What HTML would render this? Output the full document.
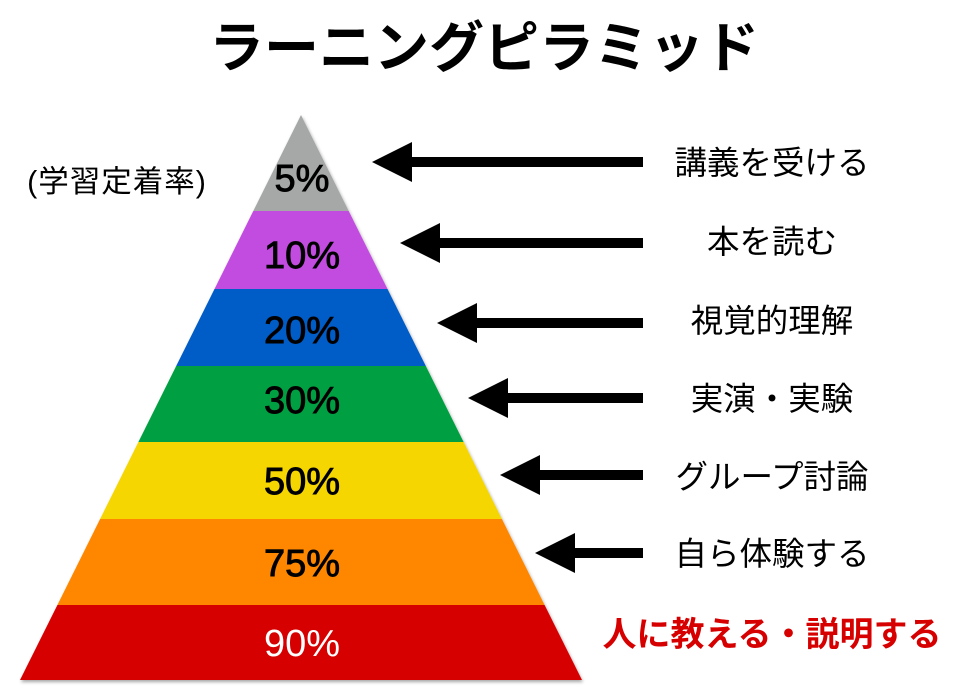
<!DOCTYPE html>
<html><head><meta charset="utf-8"><style>
html,body{margin:0;padding:0;background:#fff;}
body{width:967px;height:694px;overflow:hidden;position:relative;}
svg{position:absolute;left:0;top:0;}
text{font-family:"Liberation Sans","Noto Sans CJK JP",sans-serif;}
</style></head><body>
<svg width="967" height="694" viewBox="0 0 967 694">
<defs><filter id="sh" x="-5%" y="-5%" width="110%" height="110%"><feDropShadow dx="1" dy="2" stdDeviation="1.5" flood-color="#000" flood-opacity="0.35"/></filter></defs>
<text x="484" y="67" text-anchor="middle" font-size="55" font-weight="bold" fill="#000">ラーニングピラミッド</text>
<g filter="url(#sh)">
<polygon points="301,115 348.7,211 253.3,211" fill="#a5a8a6"/>
<polygon points="253.3,211 348.7,211 387.5,289 214.5,289" fill="#c24be0"/>
<polygon points="214.5,289 387.5,289 425.8,366 176.2,366" fill="#005cc6"/>
<polygon points="176.2,366 425.8,366 463.6,442 138.4,442" fill="#00a043"/>
<polygon points="138.4,442 463.6,442 501.9,519 100.1,519" fill="#f5d600"/>
<polygon points="100.1,519 501.9,519 544.6,605 57.4,605" fill="#ff8700"/>
<polygon points="57.4,605 544.6,605 582,680 20,680" fill="#d60000"/>
</g>
<g font-size="38" text-anchor="middle" fill="#000" stroke="#000" stroke-width="0.9">
<text x="302" y="191">5%</text>
<text x="302" y="268">10%</text>
<text x="302" y="343">20%</text>
<text x="302" y="413">30%</text>
<text x="302" y="494">50%</text>
<text x="302" y="576">75%</text>
<text x="302" y="656" fill="#fff" stroke="none">90%</text>
</g>
<text x="117" y="192" text-anchor="middle" font-size="30.5" letter-spacing="1" fill="#000">(学習定着率)</text>
<g fill="#000">
<polygon points="372,162 412,142 412,157 643,157 643,167 412,167 412,182"/>
<polygon points="400,243 440,223 440,238 643,238 643,248 440,248 440,263"/>
<polygon points="437,323 477,303 477,318 643,318 643,328 477,328 477,343"/>
<polygon points="468,398 508,378 508,393 643,393 643,403 508,403 508,418"/>
<polygon points="500,475 540,455 540,470 643,470 643,480 540,480 540,495"/>
<polygon points="535,553 575,533 575,548 643,548 643,558 575,558 575,573"/>
</g>
<g font-size="32.5" text-anchor="middle" fill="#000">
<text x="772" y="174">講義を受ける</text>
<text x="772" y="253">本を読む</text>
<text x="772" y="332">視覚的理解</text>
<text x="772" y="410">実演・実験</text>
<text x="772" y="488">グループ討論</text>
<text x="772" y="565">自ら体験する</text>
</g>
<text x="772" y="646" text-anchor="middle" font-size="34" font-weight="bold" fill="#d60000">人に教える・説明する</text>
</svg>
</body></html>
